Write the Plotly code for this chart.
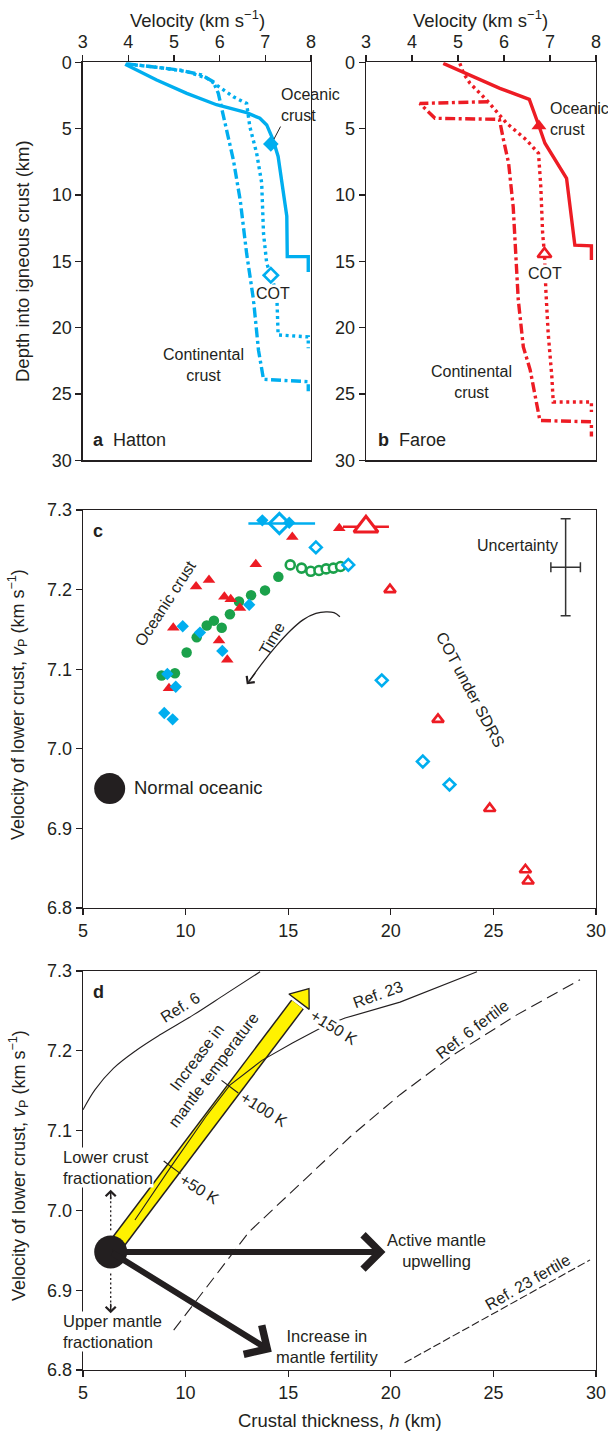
import plotly.graph_objects as go

W, H = 608, 1432
BLUE = "#00AEEF"
RED = "#ED1C24"
GREEN = "#1BA14B"
INK = "#231F20"
FONT = "Liberation Sans, Arial, Helvetica, sans-serif"

# ---------------- Panel a : Hatton (velocity km/s vs depth km) ----------------
a_ocean_v = [3.93, 4.26, 4.62, 5.28, 5.93, 6.59, 6.88, 7.03, 7.17, 7.28, 7.39, 7.47, 7.48, 7.94, 7.94]
a_ocean_d = [0.15, 0.7, 1.33, 2.34, 3.2, 3.8, 4.22, 4.72, 5.85, 7.1, 9.6, 11.6, 14.65, 14.65, 15.8]
a_cot_v = [4.0, 4.69, 5.28, 5.72, 6.3, 6.59, 6.66, 6.81, 6.92, 6.96, 7.03, 7.12, 7.25, 7.28, 7.94, 7.94]
a_cot_d = [0.15, 0.4, 0.7, 1.2, 2.6, 3.1, 4.85, 6.86, 9.1, 12.9, 15.15, 16.05, 17.4, 20.55, 20.7, 21.55]
a_cont_v = [3.95, 4.6, 5.15, 5.6, 5.86, 5.97, 6.15, 6.3, 6.45, 6.59, 6.74, 6.85, 6.96, 7.94, 7.94]
a_cont_d = [0.1, 0.35, 0.6, 0.95, 1.46, 2.34, 5.1, 7.36, 10.4, 14.4, 17.9, 21.7, 23.9, 24.07, 24.8]
a_ocean_pt = (7.12, 6.15)
a_cot_pt = (7.12, 16.05)

# ---------------- Panel b : Faroe ----------------
b_ocean_v = [4.68, 5.26, 5.91, 6.55, 6.64, 6.76, 6.89, 7.36, 7.54, 7.9, 7.9]
b_ocean_d = [0.08, 0.96, 1.96, 2.79, 3.6, 4.8, 6.1, 8.75, 13.78, 13.83, 14.9]
b_cot_v = [5.04, 5.12, 5.26, 5.62, 6.06, 6.49, 6.75, 6.8, 6.84, 6.88, 6.91, 6.96, 7.04, 7.07, 7.9, 7.9]
b_cot_d = [0.08, 0.83, 1.58, 2.84, 4.6, 5.86, 6.86, 9.38, 12.9, 14.45, 17.2, 20.4, 23.7, 25.6, 25.6, 26.35]
b_cont_v = [5.66, 4.17, 4.5, 5.9, 5.99, 6.1, 6.2, 6.31, 6.42, 6.57, 6.78, 7.9, 7.9]
b_cont_d = [2.97, 3.1, 4.22, 4.3, 5.86, 7.6, 10.9, 17.9, 21.45, 23.2, 27.0, 27.1, 28.2]
b_ocean_pt = (6.76, 4.8)
b_cot_pt = (6.88, 14.45)

# ---------------- Panel c : crustal thickness vs lower-crust velocity ----------------
c_blue_fill_h = [13.74, 15.05, 9.86, 10.7, 11.79, 13.1, 9.11, 9.52, 8.96, 9.37]
c_blue_fill_v = [7.287, 7.284, 7.154, 7.146, 7.123, 7.181, 7.094, 7.078, 7.045, 7.037]
c_blue_open_h = [16.35, 17.93, 19.56, 21.56, 22.86]
c_blue_open_v = [7.253, 7.231, 7.086, 6.984, 6.955]
c_blue_big_h = [14.57]
c_blue_big_v = [7.283]
c_blue_big_err_plus = [1.74]
c_blue_big_err_minus = [1.51]
c_red_fill_h = [15.2, 13.42, 10.51, 11.14, 11.89, 12.2, 12.65, 9.4, 11.63, 12.03, 9.19, 17.49]
c_red_fill_v = [7.266, 7.232, 7.204, 7.212, 7.191, 7.188, 7.177, 7.152, 7.136, 7.112, 7.076, 7.277]
c_red_open_h = [19.96, 22.3, 24.82, 26.56, 26.69]
c_red_open_v = [7.2, 7.037, 6.925, 6.848, 6.834]
c_red_big_h = [18.79]
c_red_big_v = [7.279]
c_red_big_err = [1.12]
c_green_fill_h = [8.83, 9.48, 10.05, 10.54, 11.03, 11.38, 11.76, 12.16, 12.6, 13.19, 13.87, 14.52]
c_green_fill_v = [7.092, 7.095, 7.121, 7.14, 7.155, 7.161, 7.152, 7.169, 7.185, 7.193, 7.199, 7.216]
c_green_open_h = [15.1, 15.65, 16.1, 16.5, 16.85, 17.2, 17.55]
c_green_open_v = [7.231, 7.227, 7.223, 7.224, 7.226, 7.227, 7.229]
c_normal_h = [6.3]
c_normal_v = [6.95]
c_unc_h = [28.52]
c_unc_v = [7.228]
c_unc_dh = [0.72]
c_unc_dv = [0.061]
c_time_h = [17.52, 17.23, 16.84, 16.35, 15.72, 15.09, 14.41, 13.72, 13.1]
c_time_v = [7.166, 7.171, 7.172, 7.17, 7.162, 7.148, 7.129, 7.107, 7.085]

# ---------------- Panel d : model trends ----------------
d_ref6_h = [5.0, 5.58, 6.48, 7.62, 8.75, 10.38, 12.0, 13.63]
d_ref6_v = [7.126, 7.151, 7.178, 7.201, 7.22, 7.245, 7.272, 7.299]
d_ref23_h = [7.53, 9.24, 11.0, 12.16, 13.72, 15.23, 16.7, 17.77, 20.45, 24.2]
d_ref23_v = [6.988, 7.053, 7.118, 7.157, 7.188, 7.21, 7.23, 7.241, 7.261, 7.299]
d_ref6f_h = [9.42, 13.09, 18.01, 20.45, 23.05, 26.14, 29.22]
d_ref6f_v = [6.85, 6.973, 7.092, 7.145, 7.195, 7.245, 7.289]
d_ref23f_h = [20.67, 29.71]
d_ref23f_v = [6.809, 6.938]
d_normal_h = [6.35]
d_normal_v = [6.948]
d_temp_h = [6.35, 15.45]
d_temp_v = [6.948, 7.258]
d_temp_tip_h = [15.69]
d_temp_tip_v = [7.267]
d_temp_marks_h = [9.34, 12.16]
d_temp_marks_v = [7.054, 7.155]
d_upwell_tip = (19.74, 6.948)
d_fertile_tip = (14.2, 6.823)
d_frac_up_v = [6.975, 7.02]
d_frac_dn_v = [6.921, 6.877]


def dom_x(p0, p1):
    return [p0 / W, p1 / W]


def dom_y(top, bottom):
    return [1 - bottom / H, 1 - top / H]


fig = go.Figure()

dash_dot = "10px,3.5px,3px,3.5px"
dotted = "3px,3.6px"
LW = 3.4

# ---- panel a traces
fig.add_trace(go.Scatter(x=a_cont_v, y=a_cont_d, mode="lines", xaxis="x", yaxis="y",
                         line=dict(color=BLUE, width=LW, dash=dash_dot)))
fig.add_trace(go.Scatter(x=a_cot_v, y=a_cot_d, mode="lines", xaxis="x", yaxis="y",
                         line=dict(color=BLUE, width=LW, dash=dotted)))
fig.add_trace(go.Scatter(x=a_ocean_v, y=a_ocean_d, mode="lines", xaxis="x", yaxis="y",
                         line=dict(color=BLUE, width=LW)))
fig.add_trace(go.Scatter(x=[a_ocean_pt[0]], y=[a_ocean_pt[1]], mode="markers", xaxis="x", yaxis="y",
                         marker=dict(symbol="diamond", size=12, color=BLUE, line=dict(width=0))))
fig.add_trace(go.Scatter(x=[a_cot_pt[0]], y=[a_cot_pt[1]], mode="markers", xaxis="x", yaxis="y",
                         marker=dict(symbol="diamond", size=11, color="white", line=dict(width=2.6, color=BLUE))))

# ---- panel b traces
fig.add_trace(go.Scatter(x=b_cont_v, y=b_cont_d, mode="lines", xaxis="x2", yaxis="y2",
                         line=dict(color=RED, width=LW, dash=dash_dot)))
fig.add_trace(go.Scatter(x=b_cot_v, y=b_cot_d, mode="lines", xaxis="x2", yaxis="y2",
                         line=dict(color=RED, width=LW, dash=dotted)))
fig.add_trace(go.Scatter(x=b_ocean_v, y=b_ocean_d, mode="lines", xaxis="x2", yaxis="y2",
                         line=dict(color=RED, width=LW)))
fig.add_trace(go.Scatter(x=[b_ocean_pt[0]], y=[b_ocean_pt[1]], mode="markers", xaxis="x2", yaxis="y2",
                         marker=dict(symbol="triangle-up", size=13, color=RED, line=dict(width=0))))
fig.add_trace(go.Scatter(x=[b_cot_pt[0]], y=[b_cot_pt[1]], mode="markers", xaxis="x2", yaxis="y2",
                         marker=dict(symbol="triangle-up", size=12, color="white", line=dict(width=2.6, color=RED))))

# ---- panel c traces
fig.add_trace(go.Scatter(x=c_time_h, y=c_time_v, mode="lines", xaxis="x3", yaxis="y3",
                         line=dict(color=INK, width=1.3, shape="spline")))
fig.add_trace(go.Scatter(x=c_green_fill_h, y=c_green_fill_v, mode="markers", xaxis="x3", yaxis="y3",
                         marker=dict(symbol="circle", size=10.5, color=GREEN, line=dict(width=0))))
fig.add_trace(go.Scatter(x=c_green_open_h, y=c_green_open_v, mode="markers", xaxis="x3", yaxis="y3",
                         marker=dict(symbol="circle", size=9, color="white", line=dict(width=2.6, color=GREEN))))
fig.add_trace(go.Scatter(x=c_red_big_h, y=c_red_big_v, mode="markers", xaxis="x3", yaxis="y3",
                         error_x=dict(type="data", array=c_red_big_err, color=RED, thickness=2.6, width=0),
                         marker=dict(symbol="triangle-up", size=21, color="white", line=dict(width=3, color=RED))))
fig.add_trace(go.Scatter(x=c_red_fill_h, y=c_red_fill_v, mode="markers", xaxis="x3", yaxis="y3",
                         marker=dict(symbol="triangle-up", size=11, color=RED, line=dict(width=0))))
fig.add_trace(go.Scatter(x=c_red_open_h, y=c_red_open_v, mode="markers", xaxis="x3", yaxis="y3",
                         marker=dict(symbol="triangle-up", size=10, color="white", line=dict(width=2.6, color=RED))))
fig.add_trace(go.Scatter(x=c_blue_big_h, y=c_blue_big_v, mode="markers", xaxis="x3", yaxis="y3",
                         error_x=dict(type="data", array=c_blue_big_err_plus, arrayminus=c_blue_big_err_minus,
                                      color=BLUE, thickness=2.6, width=0),
                         marker=dict(symbol="diamond", size=15.5, color="rgba(255,255,255,0)", line=dict(width=3, color=BLUE))))
fig.add_trace(go.Scatter(x=c_blue_fill_h, y=c_blue_fill_v, mode="markers", xaxis="x3", yaxis="y3",
                         marker=dict(symbol="diamond", size=9.5, color=BLUE, line=dict(width=0))))
fig.add_trace(go.Scatter(x=c_blue_open_h, y=c_blue_open_v, mode="markers", xaxis="x3", yaxis="y3",
                         marker=dict(symbol="diamond", size=9, color="white", line=dict(width=2.6, color=BLUE))))
fig.add_trace(go.Scatter(x=c_normal_h, y=c_normal_v, mode="markers", xaxis="x3", yaxis="y3",
                         marker=dict(symbol="circle", size=31, color=INK, line=dict(width=0))))
fig.add_trace(go.Scatter(x=c_unc_h, y=c_unc_v, mode="markers", xaxis="x3", yaxis="y3",
                         marker=dict(size=1, color="rgba(0,0,0,0)"),
                         error_x=dict(type="data", array=c_unc_dh, color="#333333", thickness=1.5, width=5),
                         error_y=dict(type="data", array=c_unc_dv, color="#333333", thickness=1.5, width=5)))

# ---- panel d traces
fig.add_trace(go.Scatter(x=d_temp_h, y=d_temp_v, mode="lines", xaxis="x4", yaxis="y4",
                         line=dict(color=INK, width=16)))
fig.add_trace(go.Scatter(x=d_temp_h, y=d_temp_v, mode="lines", xaxis="x4", yaxis="y4",
                         line=dict(color="#FFF200", width=13)))
fig.add_trace(go.Scatter(x=d_temp_tip_h, y=d_temp_tip_v, mode="markers", xaxis="x4", yaxis="y4",
                         marker=dict(symbol="triangle-up", size=22, angle=37, color="#FFF200",
                                     line=dict(width=1.3, color=INK))))
fig.add_trace(go.Scatter(x=d_temp_marks_h, y=d_temp_marks_v, mode="markers", xaxis="x4", yaxis="y4",
                         marker=dict(symbol="line-ew", size=15, angle=37, line=dict(width=1.2, color=INK))))
fig.add_trace(go.Scatter(x=d_ref6_h, y=d_ref6_v, mode="lines", xaxis="x4", yaxis="y4",
                         line=dict(color=INK, width=1.1, shape="spline")))
fig.add_trace(go.Scatter(x=d_ref23_h, y=d_ref23_v, mode="lines", xaxis="x4", yaxis="y4",
                         line=dict(color=INK, width=1.1)))
fig.add_trace(go.Scatter(x=d_ref6f_h, y=d_ref6f_v, mode="lines", xaxis="x4", yaxis="y4",
                         line=dict(color=INK, width=1.1, dash="12px,6px")))
fig.add_trace(go.Scatter(x=d_ref23f_h, y=d_ref23f_v, mode="lines", xaxis="x4", yaxis="y4",
                         line=dict(color=INK, width=1.1, dash="8px,3px")))
fig.add_trace(go.Scatter(x=d_normal_h * 2, y=d_frac_up_v, mode="lines", xaxis="x4", yaxis="y4",
                         line=dict(color=INK, width=1.3, dash="2px,2.5px")))
fig.add_trace(go.Scatter(x=d_normal_h * 2, y=d_frac_dn_v, mode="lines", xaxis="x4", yaxis="y4",
                         line=dict(color=INK, width=1.3, dash="2px,2.5px")))
fig.add_trace(go.Scatter(x=d_normal_h, y=d_normal_v, mode="markers", xaxis="x4", yaxis="y4",
                         marker=dict(symbol="circle", size=33, color=INK, line=dict(width=0))))

# ---------------- axes ----------------
tickfont = dict(family=FONT, size=18, color=INK)
common = dict(showline=True, linecolor=INK, linewidth=1.3, mirror=True, ticks="outside",
              ticklen=6, tickwidth=1.3, tickcolor=INK, showgrid=False, zeroline=False,
              tickfont=tickfont, fixedrange=True, automargin=False)

yab = dom_y(62.3, 460.3)
layout = dict(
    template="none",
    width=W, height=H, margin=dict(l=0, r=0, t=0, b=0, autoexpand=False),
    paper_bgcolor="white", plot_bgcolor="white", showlegend=False, hovermode=False,
    font=dict(family=FONT, size=16, color=INK),
    xaxis=dict(domain=dom_x(82.7, 311), range=[3, 8], dtick=1, side="top", anchor="y", **common),
    yaxis=dict(domain=yab, range=[30, 0], dtick=5, anchor="x", **common),
    xaxis2=dict(domain=dom_x(366, 596), range=[3, 8], dtick=1, side="top", anchor="y2", **common),
    yaxis2=dict(domain=yab, range=[30, 0], dtick=5, anchor="x2", **common),
    xaxis3=dict(domain=dom_x(83, 596), range=[5, 30], dtick=5, anchor="y3", **common),
    yaxis3=dict(domain=dom_y(510, 908), range=[6.8, 7.3], dtick=0.1, tickformat=".1f", anchor="x3", **common),
    xaxis4=dict(domain=dom_x(83, 596), range=[5, 30], dtick=5, anchor="y4", **common),
    yaxis4=dict(domain=dom_y(971, 1370), range=[6.8, 7.3], dtick=0.1, tickformat=".1f", anchor="x4", **common),
)
fig.update_layout(**layout)

ann = []


def text(x, y, s, xref, yref, size=16, angle=0, xanchor="center", yanchor="middle", align="center", bg=None):
    d = dict(x=x, y=y, text=s, xref=xref, yref=yref, showarrow=False, textangle=angle,
             xanchor=xanchor, yanchor=yanchor, align=align,
             font=dict(family=FONT, size=size, color=INK), borderpad=0)
    if bg:
        d["bgcolor"] = bg
    ann.append(d)


def ptext(px, py, s, **kw):
    text(px / W, 1 - py / H, s, "paper", "paper", **kw)


# axis titles
ptext(197, 19, "Velocity (km s<sup>−1</sup>)", size=18.5)
ptext(481, 19, "Velocity (km s<sup>−1</sup>)", size=18.5)
ptext(22, 261, "Depth into igneous crust (km)", size=18.5, angle=-90)
ptext(18, 705, "Velocity of lower crust, <i>v</i><sub>P</sub> (km s<sup>−1</sup>)", size=18, angle=-90)
ptext(18, 1166, "Velocity of lower crust, <i>v</i><sub>P</sub> (km s<sup>−1</sup>)", size=18, angle=-90)
ptext(340, 1420, "Crustal thickness, <i>h</i> (km)", size=18.5)

# panel a
text(7.33, 3.2, "Oceanic<br>crust", "x", "y", xanchor="left", align="left")
text(7.17, 17.4, "COT", "x", "y", bg="white")
text(5.64, 22.8, "Continental<br>crust", "x", "y")
text(3.2, 28.5, "<b>a</b>  Hatton", "x", "y", size=18, xanchor="left")
# panel b
text(6.98, 4.3, "Oceanic<br>crust", "x2", "y2", xanchor="left", align="left")
text(6.89, 15.95, "COT", "x2", "y2", bg="white")
text(5.3, 24.1, "Continental<br>crust", "x2", "y2")
text(3.24, 28.5, "<b>b</b>  Faroe", "x2", "y2", size=18, xanchor="left")
# panel c
text(5.75, 7.273, "<b>c</b>", "x3", "y3", size=18)
text(9.0, 7.183, "Oceanic crust", "x3", "y3", angle=-57)
text(14.2, 7.139, "Time", "x3", "y3", angle=-60)
text(28.2, 7.256, "Uncertainty", "x3", "y3", xanchor="right")
text(23.86, 7.074, "COT under SDRS", "x3", "y3", angle=62)
text(7.46, 6.951, "Normal oceanic", "x3", "y3", size=18.5, xanchor="left")
# panel d
text(5.75, 7.274, "<b>d</b>", "x4", "y4", size=18)
text(9.73, 7.254, "Ref. 6", "x4", "y4", size=16, angle=-32)
text(19.38, 7.271, "Ref. 23", "x4", "y4", size=16, angle=-20)
text(23.96, 7.227, "Ref. 6 fertile", "x4", "y4", size=16, angle=-37)
text(26.64, 6.91, "Ref. 23 fertile", "x4", "y4", size=16, angle=-30)
text(10.95, 7.1835, "Increase in<br>mantle temperature", "x4", "y4", size=16, angle=-53)
text(10.7, 7.026, "+50 K", "x4", "y4", size=16, angle=32)
text(13.82, 7.126, "+100 K", "x4", "y4", size=16, angle=32)
text(17.23, 7.229, "+150 K", "x4", "y4", size=16, angle=32, bg="white")
ptext(62, 1167.5, "Lower crust<br>fractionation", size=16.5, xanchor="left", align="left", bg="white")
ptext(62, 1331, "Upper mantle<br>fractionation", size=16.5, xanchor="left", align="left", bg="white")
text(22.25, 6.95, "Active mantle<br>upwelling", "x4", "y4", size=16.5)
text(16.92, 6.83, "Increase in<br>mantle fertility", "x4", "y4", size=16.5)

# arrows
ann.append(dict(x=12.98, y=7.081, ax=13.45, ay=7.097, xref="x3", yref="y3", axref="x3", ayref="y3",
                text="", showarrow=True, arrowhead=4, arrowwidth=1.3, arrowsize=1.5, arrowcolor=INK, standoff=0))
ann.append(dict(x=d_upwell_tip[0], y=d_upwell_tip[1], ax=d_normal_h[0], ay=d_normal_v[0],
                xref="x4", yref="y4", axref="x4", ayref="y4", text="", showarrow=True,
                arrowhead=4, arrowwidth=6, arrowsize=1.1, arrowcolor=INK, standoff=0))
ann.append(dict(x=d_fertile_tip[0], y=d_fertile_tip[1], ax=d_normal_h[0], ay=d_normal_v[0],
                xref="x4", yref="y4", axref="x4", ayref="y4", text="", showarrow=True,
                arrowhead=4, arrowwidth=6, arrowsize=1.1, arrowcolor=INK, standoff=0))
ann.append(dict(x=d_normal_h[0], y=7.026, ax=d_normal_h[0], ay=7.012, xref="x4", yref="y4",
                axref="x4", ayref="y4", text="", showarrow=True, arrowhead=4, arrowwidth=1.5,
                arrowsize=1.3, arrowcolor=INK, standoff=0))
ann.append(dict(x=d_normal_h[0], y=6.871, ax=d_normal_h[0], ay=6.885, xref="x4", yref="y4",
                axref="x4", ayref="y4", text="", showarrow=True, arrowhead=4, arrowwidth=1.5,
                arrowsize=1.3, arrowcolor=INK, standoff=0))
# leader line for oceanic crust label in panel a
ann.append(dict(x=7.19, y=5.78, ax=7.35, ay=4.73, xref="x", yref="y", axref="x", ayref="y",
                text="", showarrow=True, arrowhead=0, arrowwidth=1, arrowcolor=INK, standoff=0))

fig.update_layout(annotations=ann)
fig.write_html("out.html", config={"displayModeBar": False, "staticPlot": True},
               post_script="document.body.style.margin='0';document.body.style.padding='0';")
